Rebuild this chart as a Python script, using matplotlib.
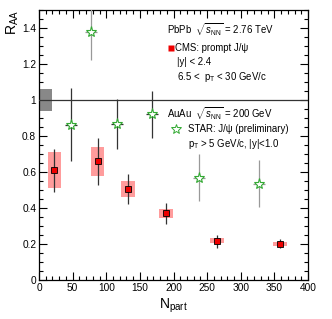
import matplotlib
matplotlib.use("Agg")
import matplotlib.pyplot as plt
from matplotlib.patches import Rectangle
from matplotlib.ticker import MultipleLocator
import numpy as np

plt.rcParams['font.family'] = ['Liberation Sans', 'DejaVu Sans']
plt.rcParams['mathtext.fontset'] = 'custom'
plt.rcParams['mathtext.rm'] = 'Liberation Sans'
plt.rcParams['mathtext.it'] = 'Liberation Sans:italic'
plt.rcParams['mathtext.sf'] = 'Liberation Sans'

# CMS prompt J/psi (PbPb 2.76 TeV)
cms_npart = [22.8, 87.3, 132.0, 189.0, 264.4, 358.6]
cms_raa = [0.609, 0.660, 0.504, 0.370, 0.218, 0.200]
cms_stat_lo = [0.49, 0.53, 0.42, 0.31, 0.18, 0.18]
cms_stat_hi = [0.725, 0.79, 0.587, 0.43, 0.25, 0.225]
cms_sys_lo = [0.51, 0.58, 0.46, 0.345, 0.205, 0.19]
cms_sys_hi = [0.71, 0.74, 0.55, 0.395, 0.232, 0.21]

# STAR J/psi preliminary (AuAu 200 GeV)
star_npart = [47.0, 77.0, 116.0, 168.6, 238.0, 327.0]
star_raa = [0.862, 1.378, 0.868, 0.920, 0.569, 0.536]
star_lo = [0.661, 1.22, 0.73, 0.79, 0.44, 0.406]
star_hi = [1.067, 1.60, 1.007, 1.05, 0.70, 0.669]

# global uncertainty box at unity
global_lo, global_hi = 0.94, 1.062

fig = plt.figure(figsize=(3.32, 3.19), dpi=100)
ax = fig.add_axes([0.1175, 0.1223, 0.9277 - 0.1175, 0.9687 - 0.1223])
ax.set_xlim(0, 400)
ax.set_ylim(0, 1.5)

# global box
ax.add_patch(Rectangle((0, global_lo), 20, global_hi - global_lo,
                       facecolor='#888888', edgecolor='none', zorder=2))
ax.axhline(1.0, color='#333333', lw=0.9, zorder=3)

# CMS systematic boxes
box_hw = 10
for x, lo, hi in zip(cms_npart, cms_sys_lo, cms_sys_hi):
    ax.add_patch(Rectangle((x - box_hw, lo), 2 * box_hw, hi - lo,
                           facecolor='#ff9c9c', edgecolor='none', zorder=2))
cms_raa_a = np.array(cms_raa)
ax.errorbar(cms_npart, cms_raa,
            yerr=[cms_raa_a - np.array(cms_stat_lo), np.array(cms_stat_hi) - cms_raa_a],
            fmt='none', ecolor='#333333', elinewidth=0.9, capsize=0, zorder=4)
ax.plot(cms_npart, cms_raa, 's', color='#ee0000', mec='black', mew=0.6,
        ms=5, zorder=5)

# STAR
star_colors = ['#333333', '#999999', '#333333', '#333333', '#999999', '#999999']
for i in range(len(star_npart)):
    ax.errorbar([star_npart[i]], [star_raa[i]],
                yerr=[[star_raa[i] - star_lo[i]], [star_hi[i] - star_raa[i]]],
                xerr=[[9], [9]],
                fmt='none', ecolor=star_colors[i], elinewidth=0.9, capsize=0,
                zorder=4)
ax.plot(star_npart, star_raa, '*', color='white', mec='#33aa33', mew=0.8,
        ms=8, zorder=5)

# ticks
ax.xaxis.set_major_locator(MultipleLocator(50))
ax.xaxis.set_minor_locator(MultipleLocator(10))
ax.yaxis.set_major_locator(MultipleLocator(0.2))
ax.yaxis.set_minor_locator(MultipleLocator(0.05))
ax.tick_params(which='both', direction='in', top=True, right=True,
               labelsize=7.3, width=0.8, pad=2)
ax.tick_params(which='major', length=6)
ax.tick_params(which='minor', length=3)
ax.set_yticks([0, 0.2, 0.4, 0.6, 0.8, 1.0, 1.2, 1.4])
ax.set_yticklabels(['0', '0.2', '0.4', '0.6', '0.8', '1', '1.2', '1.4'])
for s in ax.spines.values():
    s.set_linewidth(0.9)

ax.set_xlabel(r'N$_{\mathrm{part}}$', fontsize=10, labelpad=3)
ax.set_ylabel(r'R$_{\mathrm{AA}}$', fontsize=10, y=1.0, ha='right', labelpad=1)

fs = 6.9
ax.text(190, 1.39, r'PbPb  $\sqrt{s_{\mathrm{NN}}}$ = 2.76 TeV', fontsize=fs,
        va='center')
ax.plot([197], [1.29], 's', color='#ee0000', ms=4, mec='none', clip_on=False)
ax.text(202, 1.29, 'CMS: prompt J/ψ', fontsize=fs, va='center')
ax.text(205, 1.21, '|y| < 2.4', fontsize=fs, va='center')
ax.text(205, 1.13, r'6.5 <  p$_{\mathrm{T}}$ < 30 GeV/c', fontsize=fs, va='center')

ax.text(190, 0.923, r'AuAu  $\sqrt{s_{\mathrm{NN}}}$ = 200 GeV', fontsize=fs,
        va='center')
ax.plot([203], [0.84], '*', color='white', mec='#33aa33', mew=0.7, ms=7)
ax.text(221, 0.84, 'STAR: J/ψ (preliminary)', fontsize=fs, va='center')
ax.text(222, 0.753, r'p$_{\mathrm{T}}$ > 5 GeV/c, |y|<1.0', fontsize=fs, va='center')

fig.savefig('out.png', dpi=100)
